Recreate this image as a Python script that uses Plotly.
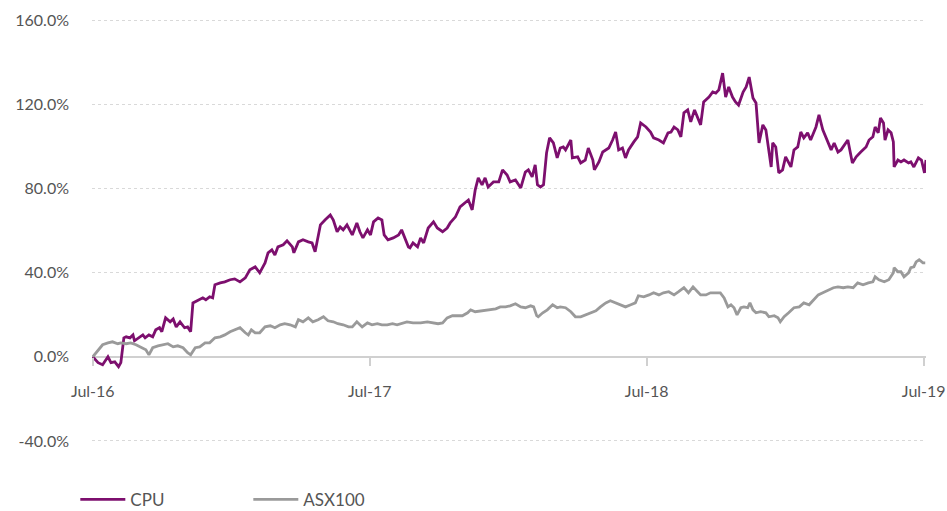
import pandas as pd
import plotly.graph_objects as go

# Days since 1 Jul 2016 and cumulative return (%)
cpu_days = [0, 7, 13, 20, 24, 29, 34, 37, 41, 44, 49, 53, 55, 62, 66, 69, 74, 79, 83, 88,
            91, 96, 102, 106, 110, 115, 121, 125, 129, 132, 135, 141, 145, 149, 154, 158, 161, 168, 174, 181,
            187, 194, 201, 207, 214, 220, 227, 231, 236, 240, 244, 251, 256, 263, 265, 271, 277, 284, 289, 293,
            297, 300, 306, 313, 317, 322, 326, 330, 335, 342, 348, 352, 356, 362, 366, 370, 376, 381, 384, 389,
            396, 403, 407, 411, 416, 418, 422, 428, 432, 436, 442, 449, 454, 461, 467, 471, 478, 484, 491, 495,
            500, 504, 508, 513, 517, 521, 528, 535, 540, 546, 550, 557, 564, 570, 574, 579, 583, 586, 590, 594,
            598, 602, 607, 612, 616, 620, 623, 630, 632, 639, 643, 649, 653, 659, 661, 667, 672, 680, 685, 689,
            693, 698, 702, 706, 713, 718, 722, 729, 735, 739, 746, 752, 758, 762, 766, 771, 775, 779, 784, 788,
            793, 799, 801, 805, 812, 817, 821, 825, 830, 834, 838, 843, 847, 851, 857, 861, 865, 870, 874, 878,
            883, 887, 891, 894, 896, 900, 904, 909, 913, 920, 924, 929, 933, 937, 942, 946, 953, 957, 962, 966,
            973, 977, 982, 986, 993, 995, 1001, 1006, 1012, 1019, 1023, 1028, 1031, 1035, 1038, 1042, 1044, 1048, 1052, 1055,
            1056, 1061, 1065, 1069, 1075, 1078, 1082, 1088, 1092, 1096, 1098]
cpu_vals = [0.0, -2.8, -3.8, 0.0, -2.8, -2.4, -4.7, -2.8, 9.0, 9.5, 9.0, 10.4, 7.6, 9.5, 10.4, 9.0, 10.4, 9.5, 12.8, 13.8,
            11.9, 18.5, 16.6, 18.0, 14.2, 16.6, 13.8, 14.2, 11.9, 25.6, 26.1, 27.1, 28.0, 27.1, 28.5, 28.0, 34.2, 35.1, 35.6, 36.6,
            37.0, 35.6, 37.5, 41.3, 42.7, 39.9, 44.6, 49.4, 50.8, 48.4, 52.2, 53.2, 55.1, 52.2, 49.4, 54.6, 55.6, 54.6, 54.1, 49.9,
            57.0, 62.7, 65.0, 67.4, 65.0, 59.4, 61.7, 60.3, 62.7, 57.9, 63.6, 59.4, 56.5, 60.3, 57.9, 64.1, 66.0, 65.0, 57.9, 55.6,
            56.5, 57.9, 60.3, 57.0, 52.2, 51.8, 54.1, 52.2, 56.5, 54.1, 61.2, 64.1, 61.2, 59.4, 61.2, 63.6, 66.5, 71.2, 73.6, 74.5,
            69.8, 79.3, 85.0, 81.7, 85.0, 80.7, 83.1, 83.1, 88.8, 86.4, 83.1, 84.0, 80.2, 87.8, 88.8, 85.5, 91.2, 81.7, 80.7, 81.7,
            96.9, 104.0, 101.6, 94.5, 99.2, 99.7, 98.3, 103.0, 94.5, 95.0, 92.1, 93.5, 99.2, 93.5, 88.8, 92.6, 97.3, 99.2, 103.0, 106.8,
            98.3, 99.2, 94.5, 98.3, 102.1, 104.5, 111.1, 109.2, 106.8, 104.0, 103.0, 101.6, 106.4, 106.8, 109.2, 107.8, 104.5, 115.9, 117.3, 111.6,
            117.3, 112.5, 110.2, 121.1, 123.4, 125.8, 125.3, 126.8, 134.8, 123.4, 128.2, 123.4, 121.1, 119.6, 125.8, 128.2, 132.9, 123.0, 120.6, 101.6,
            110.2, 107.8, 97.3, 90.2, 101.6, 99.7, 87.4, 88.8, 95.0, 90.2, 98.3, 99.7, 106.8, 104.0, 106.4, 103.0, 109.2, 114.9, 107.8, 104.5,
            98.3, 101.6, 97.3, 98.3, 101.6, 103.0, 92.1, 95.0, 97.3, 99.7, 103.0, 104.5, 109.2, 106.4, 113.5, 111.1, 103.0, 107.8, 106.4, 102.1,
            90.2, 93.5, 92.6, 93.5, 92.1, 92.6, 90.2, 94.5, 93.5, 87.4, 93.5]

asx_days = [0, 7, 13, 20, 26, 33, 37, 44, 50, 57, 63, 70, 74, 79, 86, 92, 99, 106, 112, 119,
            125, 129, 135, 141, 148, 154, 161, 168, 174, 181, 187, 194, 201, 205, 209, 214, 220, 227, 234, 240,
            247, 253, 260, 267, 271, 277, 284, 290, 297, 304, 310, 317, 323, 330, 337, 342, 348, 355, 362, 368,
            375, 381, 388, 395, 401, 408, 414, 422, 432, 441, 449, 455, 461, 467, 474, 480, 487, 494, 498, 504,
            511, 517, 524, 531, 537, 544, 550, 557, 564, 570, 577, 581, 585, 587, 593, 599, 606, 612, 616, 623,
            630, 636, 643, 649, 656, 663, 669, 676, 682, 689, 696, 702, 709, 715, 719, 726, 733, 739, 746, 752,
            759, 766, 772, 779, 785, 791, 797, 801, 808, 814, 821, 827, 832, 837, 841, 845, 849, 854, 858, 863,
            866, 870, 874, 880, 887, 891, 898, 903, 906, 911, 917, 924, 931, 937, 944, 950, 956, 962, 969, 976,
            982, 989, 995, 1002, 1008, 1015, 1022, 1028, 1031, 1036, 1043, 1049, 1055, 1056, 1061, 1065, 1069, 1075, 1078, 1082,
            1085, 1089, 1094, 1097]
asx_vals = [0.0, 3.3, 5.7, 6.6, 7.1, 6.2, 6.6, 6.2, 6.6, 5.7, 4.7, 3.3, 0.9, 4.3, 5.2, 5.7, 6.2, 4.7, 5.2, 4.3,
            1.9, 0.9, 4.3, 4.7, 6.6, 6.6, 9.0, 9.5, 10.4, 11.9, 12.8, 13.8, 11.4, 10.4, 12.8, 11.4, 11.4, 14.2, 14.7, 13.8,
            15.2, 15.7, 15.2, 14.2, 17.6, 16.6, 18.5, 16.6, 17.6, 19.0, 17.1, 16.6, 15.7, 15.2, 14.2, 14.2, 16.6, 14.2, 16.1, 15.2,
            15.7, 15.2, 15.2, 15.7, 15.2, 16.1, 16.6, 16.1, 16.1, 16.6, 16.1, 15.7, 16.1, 18.5, 19.5, 19.5, 19.5, 20.9, 22.3, 21.4,
            21.8, 21.8, 22.3, 22.8, 23.7, 23.7, 24.2, 25.2, 23.7, 23.3, 24.2, 23.7, 19.5, 19.0, 20.9, 22.3, 24.7, 23.3, 23.7, 23.3,
            21.4, 19.0, 19.0, 19.9, 20.9, 21.8, 23.7, 25.6, 26.6, 25.6, 24.7, 23.7, 24.7, 25.6, 29.0, 28.5, 29.4, 30.4, 29.4, 30.4,
            30.9, 29.4, 30.9, 32.8, 30.4, 33.2, 30.9, 29.4, 29.4, 30.4, 30.4, 30.4, 28.0, 23.7, 24.7, 23.3, 19.9, 23.3, 23.7, 23.3,
            25.6, 22.3, 20.9, 21.4, 20.9, 19.0, 19.5, 18.5, 16.6, 19.0, 20.9, 23.3, 23.7, 25.6, 24.7, 27.1, 29.4, 30.4, 31.8, 32.8,
            33.2, 32.8, 33.2, 32.8, 35.1, 34.2, 35.1, 35.6, 38.0, 36.6, 35.6, 36.6, 39.9, 42.3, 40.4, 40.4, 38.0, 39.9, 42.3, 42.7,
            45.1, 46.1, 44.6, 44.6]

start = pd.Timestamp("2016-07-01")
cpu_dates = start + pd.to_timedelta(cpu_days, unit="D")
asx_dates = start + pd.to_timedelta(asx_days, unit="D")

tick_dates = ["2016-07-01", "2017-07-01", "2018-07-01", "2019-07-01"]
tick_labels = ["Jul-16", "Jul-17", "Jul-18", "Jul-19"]
y_ticks = [-40, 0, 40, 80, 120, 160]
y_labels = ["-40.0%", "0.0%", "40.0%", "80.0%", "120.0%", "160.0%"]

FONT = "Lato"
TXT = "#555555"

fig = go.Figure()
fig.add_trace(go.Scatter(x=cpu_dates, y=cpu_vals, mode="lines", name="CPU",
                         line=dict(color="#7d0f6e", width=2.8)))
fig.add_trace(go.Scatter(x=asx_dates, y=asx_vals, mode="lines", name="ASX100",
                         line=dict(color="#9a9a9a", width=2.8)))

fig.update_layout(
    width=947, height=511,
    margin=dict(l=92, r=21, t=19, b=69, autoexpand=False),
    paper_bgcolor="white", plot_bgcolor="white",
    font=dict(family=FONT, size=16, color=TXT),
    showlegend=True,
    legend=dict(orientation="h", x=-0.02, xanchor="left",
                yref="container", y=0.022, yanchor="middle",
                entrywidth=113, entrywidthmode="pixels", itemwidth=45,
                font=dict(family=FONT, size=17, color=TXT)),
    xaxis=dict(type="date", range=["2016-06-30", "2019-07-04"],
               tickvals=tick_dates, ticktext=tick_labels,
               anchor="free", position=40.5 / 201.0,
               showgrid=False, showline=False, zeroline=False,
               ticks="outside", ticklen=8, tickwidth=2, tickcolor="#d0d0d0",
               ticklabelstandoff=12,
               tickfont=dict(family=FONT, size=16, color=TXT)),
    yaxis=dict(range=[-40.5, 160.5], tickvals=y_ticks, ticktext=y_labels,
               showgrid=True, gridcolor="#d9d9d9", griddash="dot", gridwidth=1,
               zeroline=True, zerolinecolor="#d0d0d0", zerolinewidth=2,
               showline=False, ticks="", ticklabelstandoff=22,
               tickfont=dict(family=FONT, size=16, color=TXT)),
)

fig.write_html("out.html")
